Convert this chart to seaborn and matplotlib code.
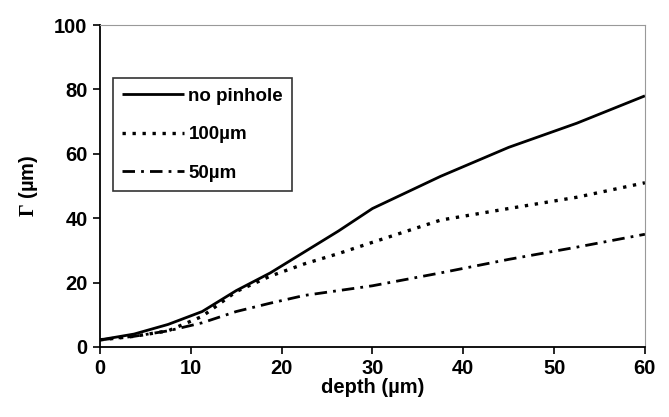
import numpy as np
import pandas as pd
import seaborn as sns
import matplotlib
matplotlib.use("Agg")
import matplotlib.pyplot as plt

depth = [0, 3.75, 7.5, 11.25, 15, 18.75, 22.5, 26.25, 30, 37.5, 45, 52.5, 60]
no_pinhole = [2.2, 4.0, 7.0, 11.0, 17.5, 23.0, 29.5, 36.0, 43.0, 53.0, 62.0, 69.5, 78.0]
pin_100 = [2.2, 3.3, 5.0, 9.5, 17.2, 22.0, 25.8, 29.0, 32.5, 39.4, 43.0, 46.5, 51.0]
pin_50 = [2.2, 3.3, 5.0, 7.5, 11.0, 13.6, 16.0, 17.5, 19.0, 23.0, 27.2, 31.0, 35.0]
labels = ["no pinhole", "100\u00b5m", "50\u00b5m"]

sns.set_theme(style="white")
plt.rcParams['font.family'] = ['Liberation Sans', 'DejaVu Sans']
plt.rcParams['text.color'] = 'black'
plt.rcParams['axes.labelcolor'] = 'black'
plt.rcParams['xtick.color'] = 'black'
plt.rcParams['ytick.color'] = 'black'
plt.rcParams['mathtext.fontset'] = 'custom'
plt.rcParams['mathtext.rm'] = 'Liberation Serif:bold'
plt.rcParams['mathtext.it'] = 'Liberation Serif:bold'
plt.rcParams['mathtext.bf'] = 'Liberation Serif:bold'

df = pd.DataFrame({
    "depth": depth * 3,
    "val": no_pinhole + pin_100 + pin_50,
    "series": [labels[0]] * len(depth) + [labels[1]] * len(depth) + [labels[2]] * len(depth),
})

fig = plt.figure(figsize=(6.69, 4.17), dpi=100)
ax = fig.add_axes([0.1495, 0.168, 0.8145, 0.772])

styles = {labels[0]: (0, ()), labels[1]: (0, (1.0, 2.0)), labels[2]: (0, (4.5, 2.2, 1.0, 2.2))}
for lab in labels:
    sub = df[df.series == lab]
    sns.lineplot(data=sub, x="depth", y="val", ax=ax, color="black",
                 linewidth=2.0 if lab != labels[1] else 2.4,
                 linestyle=styles[lab], label=lab)

ax.set_xlim(0, 60)
ax.set_ylim(0, 100)
ax.set_xticks(range(0, 61, 10))
ax.set_yticks(range(0, 101, 20))
for s in ["left", "bottom"]:
    ax.spines[s].set_color("black")
    ax.spines[s].set_linewidth(1.3)
for s in ["top", "right"]:
    ax.spines[s].set_color("#999999")
    ax.spines[s].set_linewidth(0.8)
ax.tick_params(axis="both", which="both", direction="out", length=5, width=1.2,
               color="black", labelsize=14.5, bottom=True, left=True, pad=4)
for t in ax.get_xticklabels() + ax.get_yticklabels():
    t.set_fontweight("bold")

ax.set_xlabel("depth (\u00b5m)", fontsize=14.5, fontweight="bold", labelpad=0)
ax.set_ylabel("$\\Gamma$ (\u00b5m)", fontsize=14.5, fontweight="bold", labelpad=10)

leg = ax.legend(loc="upper left", bbox_to_anchor=(0.023, 0.835), frameon=True,
                fancybox=False, edgecolor="black", fontsize=13.5, handlelength=3.3,
                handletextpad=0.25, borderpad=0.5, labelspacing=1.15, borderaxespad=0)
leg.get_frame().set_linewidth(1.2)
for t in leg.get_texts():
    t.set_fontweight("bold")

fig.savefig("out.png", dpi=100)
